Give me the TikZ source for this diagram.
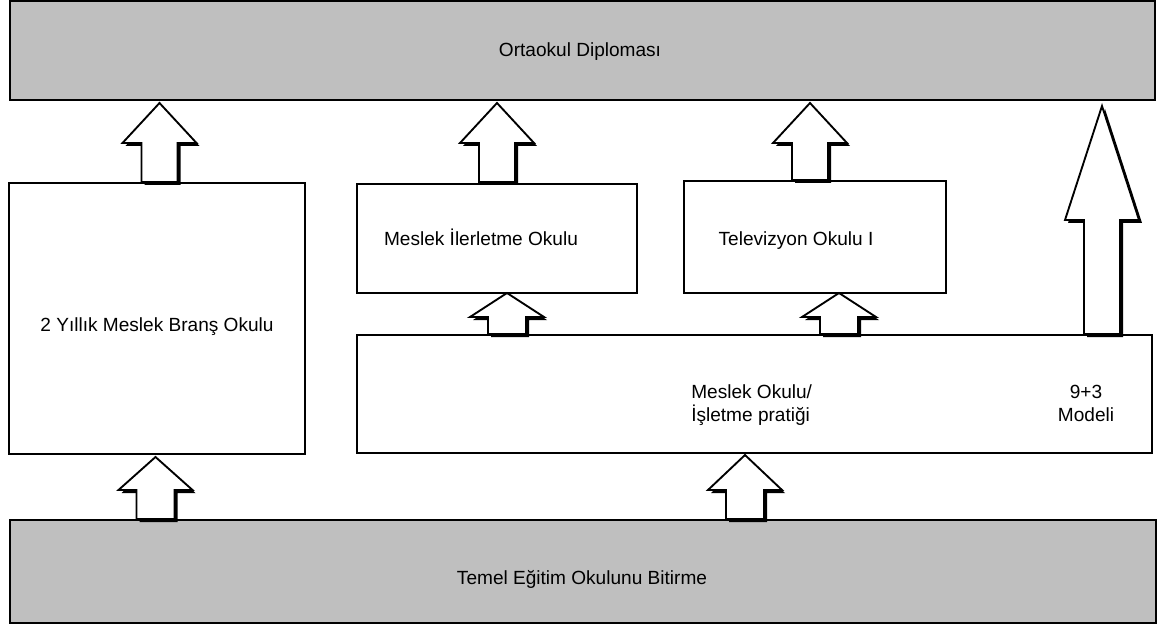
\documentclass[tikz,border=0pt]{standalone}
\usepackage{fontspec}
\setmainfont{Liberation Sans}
% Block arrow pointing up, with a drop shadow to the lower right.
% #1 centre x, #2 tip y, #3 y of the head base, #4 bottom y, #5 half head width, #6 half shaft width
\newcommand\BlkArrow[6]{%
  \fill[black, shift={(3,3)}] (#1,#2) -- (#1+#5,#3) -- (#1+#6,#3) -- (#1+#6,#4)
      -- (#1-#6,#4) -- (#1-#6,#3) -- (#1-#5,#3) -- cycle;
  \filldraw[arrowbody] (#1,#2) -- (#1+#5,#3) -- (#1+#6,#3) -- (#1+#6,#4)
      -- (#1-#6,#4) -- (#1-#6,#3) -- (#1-#5,#3) -- cycle;
}
\begin{document}
\begin{tikzpicture}[x=0.75pt,y=-0.75pt,
  band/.style={draw=black, line width=1.6pt, fill=black!25, inner sep=0pt, outer sep=0pt},
  box/.style={draw=black, line width=1.6pt, fill=white, inner sep=0pt, outer sep=0pt},
  arrowbody/.style={fill=white, draw=black, line width=1.4pt},
  lbl/.style={font=\fontsize{14.3}{17}\selectfont, inner sep=0pt, anchor=base},
]
\useasboundingbox (0,0) rectangle (1172,631);

% bands
\node[band, minimum width=858.75pt, minimum height=74.25pt] (top) at (582.5,50.5) {};
\node[band, minimum width=859.5pt, minimum height=77.25pt] (bottom) at (583,571.5) {};

% boxes
\node[box, minimum width=222pt, minimum height=203.25pt] (brans) at (157,318.5) {};
\node[box, minimum width=210pt, minimum height=81.75pt] (ilerletme) at (497,238.5) {};
\node[box, minimum width=196.5pt, minimum height=84pt] (tv) at (815,237) {};
\node[box, minimum width=596.25pt, minimum height=88.5pt] (meslek) at (754.5,394) {};

% block arrows
\BlkArrow{159.5}{103}{143}{182}{37}{18}
\BlkArrow{497}{103}{143}{182}{37}{18}
\BlkArrow{810}{103}{143}{180}{37}{18}
\BlkArrow{1102}{106}{220}{334}{37}{18}
\BlkArrow{507}{293}{317}{334}{37}{19}
\BlkArrow{839}{293}{317}{334}{37}{19}
\BlkArrow{155.5}{457}{490}{519}{37}{19}
\BlkArrow{745}{455}{490}{519}{37}{19}

% labels
\node[lbl] (tDipl) at (580,56.5) {Ortaokul Diplomas\i};
\node[lbl] (tTemel) at (582,584.5) {Temel Eğitim Okulunu Bitirme};
\node[lbl] (tBrans) at (157,331.5) {2 Yıllık Meslek Branş Okulu};
\node[lbl] (tIler) at (481,245.5) {Meslek İlerletme Okulu};
\node[lbl] (tTv) at (796,245.5) {Televizyon Okulu I};
\node[lbl, anchor=base west] (tMes1) at (691,398.5) {Meslek Okulu/};
\node[lbl, anchor=base west] (tMes2) at (691,421.5) {İşletme pratiği};
\node[lbl] (tModel1) at (1086,398) {9+3};
\node[lbl] (tModel2) at (1086,421) {Modeli};
\end{tikzpicture}
\end{document}
